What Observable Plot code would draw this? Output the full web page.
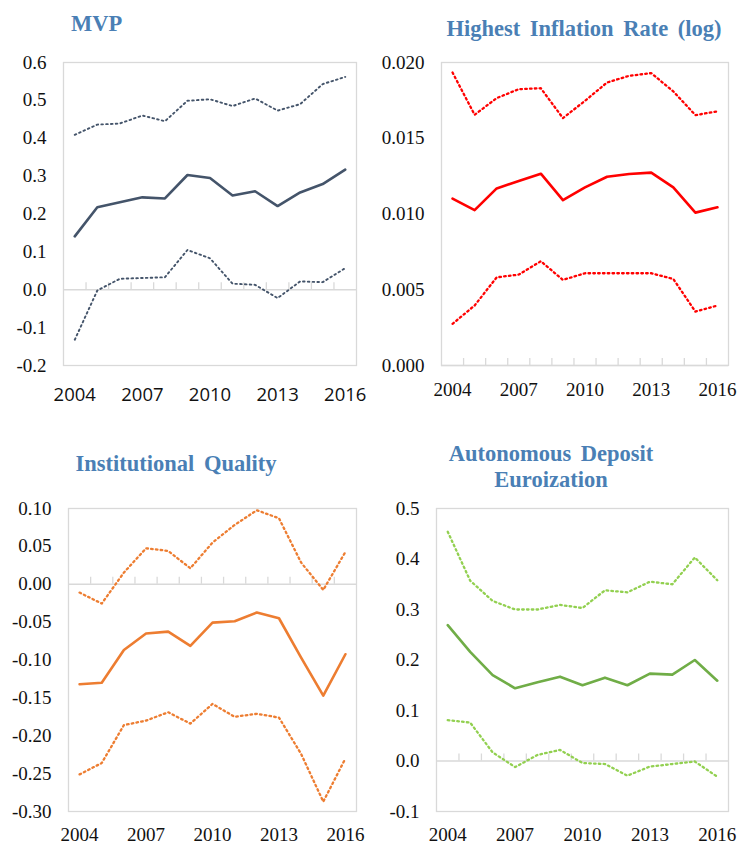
<!DOCTYPE html>
<html>
<head>
<meta charset="utf-8">
<script src="https://cdn.jsdelivr.net/npm/d3@7"></script>
<script src="https://cdn.jsdelivr.net/npm/@observablehq/plot@0.6"></script>
<style>
  html, body { margin: 0; padding: 0; background: #fff; }
  #wrap { position: relative; width: 740px; height: 844px; overflow: hidden; }
  .panel { position: absolute; }
  .panel svg text { font-family: "Liberation Serif", "Times New Roman", serif !important; font-size: 19px; fill: #111; }
  .panel.sansx svg g[aria-label="x-axis tick label"] text { font-family: "Open Sans", "Liberation Sans", sans-serif !important; font-size: 18.5px; }
  .title { position: absolute; font-family: "Liberation Serif", "Times New Roman", serif; font-weight: bold;
           font-size: 22.5px; line-height: 22.5px; color: #4a7fb5; word-spacing: 4px; white-space: nowrap; }
</style>
</head>
<body>
<div id="wrap"></div>
<script>
// ---- data ----
const years = [2004, 2005, 2006, 2007, 2008, 2009, 2010, 2011, 2012, 2013, 2014, 2015, 2016];
const xTickLabels = [2004, 2007, 2010, 2013, 2016];

const mvpMid = [0.141, 0.218, 0.231, 0.244, 0.241, 0.303, 0.295, 0.249, 0.260, 0.221, 0.257, 0.279, 0.317];
const mvpHi  = [0.409, 0.436, 0.439, 0.460, 0.445, 0.499, 0.503, 0.485, 0.505, 0.473, 0.490, 0.543, 0.562];
const mvpLo  = [-0.132, -0.002, 0.029, 0.031, 0.033, 0.105, 0.083, 0.016, 0.013, -0.022, 0.022, 0.020, 0.057];
const mvpTicks = [-0.2, -0.1, 0.0, 0.1, 0.2, 0.3, 0.4, 0.5, 0.6];

const infMid = [0.01101, 0.01026, 0.01169, 0.01218, 0.01266, 0.01092, 0.01176, 0.01246, 0.01264, 0.01273, 0.01176, 0.01009, 0.01044];
const infHi  = [0.01934, 0.01655, 0.01765, 0.01824, 0.01830, 0.01633, 0.01747, 0.01868, 0.01912, 0.01930, 0.01809, 0.01653, 0.01677];
const infLo  = [0.00275, 0.00396, 0.00582, 0.00600, 0.00688, 0.00565, 0.00609, 0.00609, 0.00609, 0.00609, 0.00571, 0.00356, 0.00396];
const infTicks = [0.000, 0.005, 0.010, 0.015, 0.020];

const iqMid = [-0.132, -0.130, -0.0867, -0.0651, -0.0625, -0.0814, -0.0506, -0.0488, -0.0374, -0.0449, -0.0968, -0.147, -0.0924];
const iqHi  = [-0.011, -0.0255, 0.0154, 0.0475, 0.044, 0.0211, 0.055, 0.0783, 0.0977, 0.0871, 0.0286, -0.0075, 0.0427];
const iqLo  = [-0.251, -0.236, -0.186, -0.180, -0.169, -0.184, -0.158, -0.175, -0.171, -0.176, -0.224, -0.287, -0.230];
const iqTicks = [-0.30, -0.25, -0.20, -0.15, -0.10, -0.05, 0.00, 0.05, 0.10];

const euroMid = [0.269, 0.216, 0.170, 0.144, 0.156, 0.167, 0.150, 0.165, 0.150, 0.173, 0.171, 0.200, 0.159];
const euroHi  = [0.454, 0.357, 0.317, 0.300, 0.300, 0.309, 0.303, 0.338, 0.334, 0.355, 0.350, 0.403, 0.358];
const euroLo  = [0.081, 0.076, 0.017, -0.012, 0.012, 0.022, -0.004, -0.006, -0.029, -0.011, -0.006, -0.001, -0.031];
const euroTicks = [-0.1, 0.0, 0.1, 0.2, 0.3, 0.4, 0.5];

const titles = ["MVP", "Highest Inflation Rate (log)", "Institutional Quality", "Autonomous Deposit\nEuroization"];

// ---- drawing ----
const wrap = document.getElementById("wrap");
const boundaries = years.slice(1).map(y => y - 0.5);

function panel({mid, hi, lo, ticks, decimals, color, dotColor, dotWidth, left, top, height, mL, mR, mT, mB, sansX, xPad}) {
  const rows = years.map((yr, i) => ({year: yr, mid: mid[i], hi: hi[i], lo: lo[i]}));
  const chart = Plot.plot({
    width: 370, height,
    marginLeft: mL, marginRight: mR, marginTop: mT, marginBottom: mB,
    style: {fontSize: "19px", color: "#111", background: "transparent"},
    x: {domain: [years[0] - 0.5, years[years.length - 1] + 0.5]},
    y: {domain: [ticks[0], ticks[ticks.length - 1]]},
    marks: [
      Plot.frame({stroke: "#d9d9d9", strokeWidth: 1.3}),
      Plot.ruleY([0], {stroke: "#d9d9d9", strokeWidth: 1.3}),
      Plot.ruleX(boundaries, {x: d => d, y1: 0, y2: 0, insetTop: -7, stroke: "#d9d9d9", strokeWidth: 1.3}),
      Plot.axisY({ticks, tickSize: 0, tickPadding: 17, tickFormat: d => d.toFixed(decimals), label: null}),
      Plot.axisX({ticks: xTickLabels, tickSize: 0, tickPadding: xPad, tickFormat: d => String(d), label: null}),
      Plot.lineY(rows, {x: "year", y: "hi", stroke: dotColor, strokeWidth: dotWidth, strokeDasharray: "1.6,3.2"}),
      Plot.lineY(rows, {x: "year", y: "lo", stroke: dotColor, strokeWidth: dotWidth, strokeDasharray: "1.6,3.2"}),
      Plot.lineY(rows, {x: "year", y: "mid", stroke: color, strokeWidth: 2.6})
    ]
  });
  const div = document.createElement("div");
  div.className = "panel" + (sansX ? " sansx" : "");
  div.style.left = left + "px";
  div.style.top = top + "px";
  div.appendChild(chart);
  wrap.appendChild(div);
}

panel({mid: mvpMid, hi: mvpHi, lo: mvpLo, ticks: mvpTicks, decimals: 1, color: "#44546a", dotColor: "#44546a", dotWidth: 1.9,
       left: 0, top: 40, height: 370, mL: 63, mR: 14, mT: 22, mB: 45, sansX: true, xPad: 22});
panel({mid: infMid, hi: infHi, lo: infLo, ticks: infTicks, decimals: 3, color: "#ff0000", dotColor: "#ff0000", dotWidth: 2.3,
       left: 370, top: 40, height: 370, mL: 71, mR: 12, mT: 22, mB: 45, sansX: false, xPad: 17});
panel({mid: iqMid, hi: iqHi, lo: iqLo, ticks: iqTicks, decimals: 2, color: "#ed7d31", dotColor: "#ed7d31", dotWidth: 2.3,
       left: 0, top: 490, height: 354, mL: 68, mR: 14, mT: 18, mB: 33, sansX: false, xPad: 16});
panel({mid: euroMid, hi: euroHi, lo: euroLo, ticks: euroTicks, decimals: 1, color: "#70ad47", dotColor: "#92d050", dotWidth: 2.3,
       left: 370, top: 490, height: 354, mL: 66, mR: 12, mT: 18, mB: 33, sansX: false, xPad: 16});

// titles
function title(text, {left, top, center, lineHeight}) {
  const t = document.createElement("div");
  t.className = "title";
  t.style.top = top + "px";
  if (lineHeight) t.style.lineHeight = lineHeight + "px";
  if (center !== undefined) {
    t.style.left = (center - 200) + "px";
    t.style.width = "400px";
    t.style.textAlign = "center";
  } else {
    t.style.left = left + "px";
  }
  text.split("\n").forEach((line, i) => {
    if (i) t.appendChild(document.createElement("br"));
    t.appendChild(document.createTextNode(line));
  });
  wrap.appendChild(t);
}
title(titles[0], {left: 71, top: 13});
title(titles[1], {center: 584, top: 18});
title(titles[2], {center: 176, top: 453});
title(titles[3], {center: 551, top: 441, lineHeight: 26});
</script>
</body>
</html>
